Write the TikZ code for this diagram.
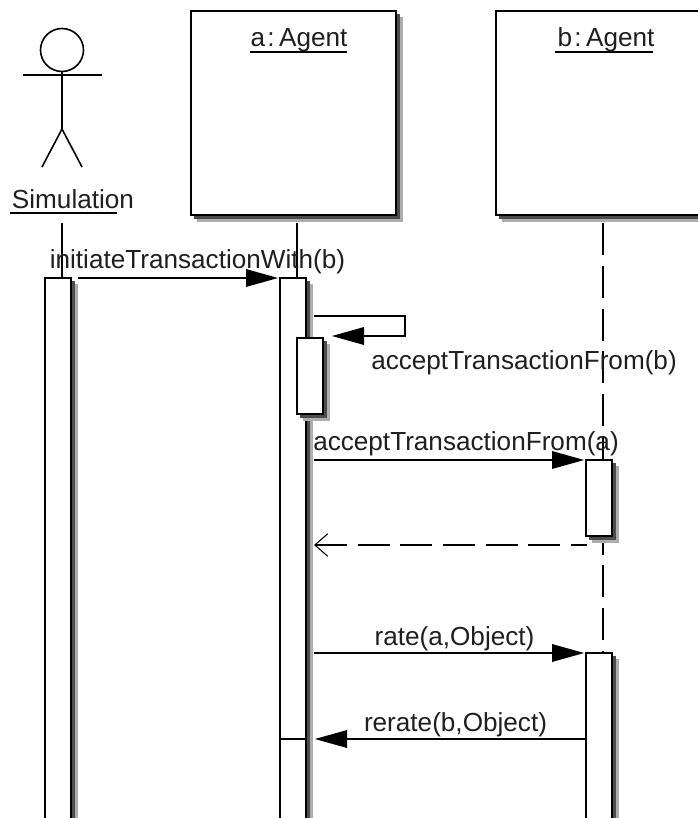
\documentclass[tikz,border=0pt]{standalone}
\usepackage{fontspec}
\setmainfont{Liberation Sans}
\usetikzlibrary{arrows.meta}
\definecolor{shadowdark}{gray}{0.3}
\definecolor{shadowlight}{gray}{0.68}
\newcommand{\shadowrect}[4]{%
  \fill[shadowlight] (#1+6,#2+6) rectangle (#3+7,#4+7);
  \fill[shadowdark] (#1+3,#2+3) rectangle (#3+4,#4+4);}
\tikzset{
  x=0.75pt,y=-0.75pt,
  line/.style={draw=black,line width=1.2pt},
  box/.style={draw=black,line width=1.35pt,fill=white},
  msg/.style={line,-{Triangle[length=24pt,width=13.5pt,line width=0pt,fill=black]}},
  reply/.style={line,line width=1.1pt,dash pattern=on 24pt off 8pt,dash phase=12pt,-{Straight Barb[length=9.75pt,width=17pt,line width=0.8pt]}},
  life/.style={line},
  dashedlife/.style={line,dash pattern=on 24pt off 8.1pt},
  lab/.style={inner sep=0pt,font=\fontsize{19.6}{22}\selectfont,text=black!88,anchor=base}
}
\begin{document}
\begin{tikzpicture}
\useasboundingbox (0,0) rectangle (698,818);
\fill[white] (0,0) rectangle (698,818);
% actor
\draw[line] (62,50) circle (21.5);
\draw[line] (23,75) -- (102,75);
\draw[line] (62,72) -- (62,129);
\draw[line] (62,129) -- (42,167);
\draw[line] (62,129) -- (82,167);
\draw[line] (10,213) -- (117,213);
% object boxes
\shadowrect{191}{11}{396}{215}
\draw[box] (191,11) rectangle (396,215);
\draw[line] (250,52) -- (347,52);
\shadowrect{496}{11}{720}{215}
\draw[box] (496,11) rectangle (720,215);
\draw[line] (555,52) -- (653,52);
% lifelines
\coordinate (simtop) at (62,223);
\coordinate (simbot) at (62,278);
\coordinate (atop) at (297,223);
\coordinate (abot) at (297,278);
\coordinate (btop) at (603,223);
\coordinate (bbot) at (603,653);
\draw[life] (simtop) -- (simbot);
\draw[life] (atop) -- (abot);
\draw[dashedlife] (btop) -- (bbot);
% activations
\shadowrect{45}{278}{71}{830}
\draw[box] (45,278) rectangle (71,830);
\shadowrect{280}{278}{306}{830}
\draw[box] (280,278) rectangle (306,830);
\shadowrect{297}{338}{323}{414}
\draw[box] (297,338) rectangle (323,414);
\shadowrect{586}{460}{612}{536}
\draw[box] (586,460) rectangle (612,536);
\shadowrect{586}{653}{612}{830}
\draw[box] (586,653) rectangle (612,830);
\draw[line] (280,739) -- (306,739);
% messages
\coordinate (m1a) at (78,278);
\coordinate (m1b) at (278,278);
\draw[msg] (m1a) -- (m1b);
\coordinate (s1) at (314,316);
\coordinate (s2) at (405,316);
\coordinate (s3) at (405,336);
\coordinate (s4) at (332,336);
\draw[msg] (s1) -- (s2) -- (s3) -- (s4);
\coordinate (m3a) at (314,460);
\coordinate (m3b) at (584,460);
\draw[msg] (m3a) -- (m3b);
\coordinate (r1a) at (587,545);
\coordinate (r1b) at (314,545);
\draw[reply] (r1a) -- (r1b);
\coordinate (m4a) at (314,653);
\coordinate (m4b) at (584,653);
\draw[msg] (m4a) -- (m4b);
\coordinate (m5a) at (586,739);
\coordinate (m5b) at (315,739);
\draw[msg] (m5a) -- (m5b);
% labels
\node[lab] (simlab) at (73,208) {Simulation};
\node[lab] (alab) at (299,46) {\spaceskip=1.6pt\relax a : Agent};
\node[lab] (blab) at (606,46) {\spaceskip=1.6pt\relax b : Agent};
\node[lab] (m1) at (197.5,268) {initiateTransactionWith(b)};
\node[lab] (m2) at (524,369) {acceptTransactionFrom(b)};
\node[lab] (m3) at (466,450) {acceptTransactionFrom(a)};
\node[lab] (m4) at (454.5,645) {rate(a,Object)};
\node[lab] (m5) at (455.5,731) {rerate(b,Object)};
\end{tikzpicture}
\end{document}
